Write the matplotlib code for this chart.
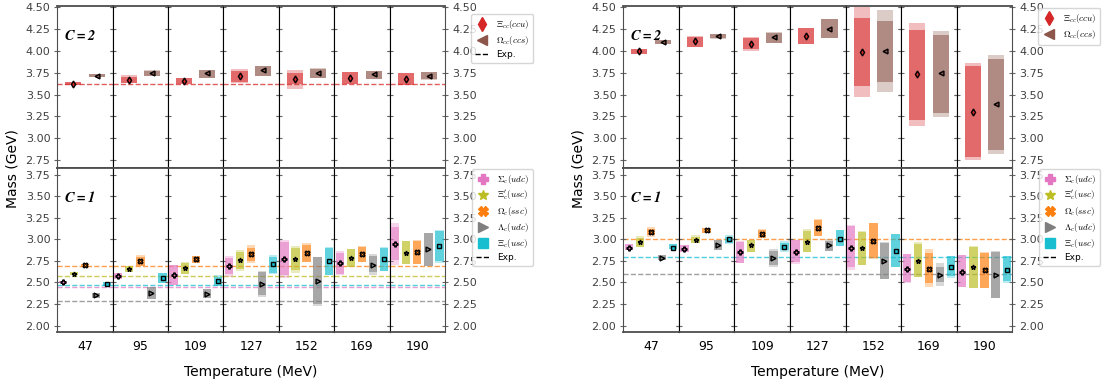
# charmed baryon masses vs temperature, two fits side by side

import numpy as np
import matplotlib
matplotlib.use("Agg")
import matplotlib.pyplot as plt
from matplotlib.lines import Line2D

plt.rcParams['mathtext.fontset'] = 'cm'

temps = [47, 95, 109, 127, 152, 169, 190]

# each entry: (centre, inner_lo, inner_hi, outer_lo, outer_hi)
xicc_L = [(3.625, 3.613, 3.648, 3.613, 3.648), (3.667, 3.636, 3.701, 3.636, 3.724),
          (3.659, 3.621, 3.690, 3.621, 3.690), (3.709, 3.648, 3.770, 3.629, 3.793),
          (3.675, 3.621, 3.751, 3.560, 3.782), (3.686, 3.621, 3.759, 3.621, 3.759),
          (3.678, 3.610, 3.751, 3.605, 3.751)]
omcc_L = [(3.717, 3.698, 3.736, 3.698, 3.736), (3.747, 3.713, 3.770, 3.713, 3.782),
          (3.743, 3.690, 3.782, 3.690, 3.782), (3.778, 3.713, 3.827, 3.713, 3.827),
          (3.751, 3.690, 3.793, 3.690, 3.805), (3.736, 3.678, 3.770, 3.678, 3.770),
          (3.713, 3.675, 3.759, 3.670, 3.759)]

sigc_L = [(2.507, 2.496, 2.523, 2.496, 2.523), (2.577, 2.542, 2.612, 2.542, 2.612),
          (2.585, 2.469, 2.701, 2.469, 2.701), (2.693, 2.596, 2.790, 2.569, 2.809),
          (2.778, 2.592, 2.972, 2.558, 2.995), (2.728, 2.600, 2.844, 2.590, 2.867),
          (2.953, 2.763, 3.142, 2.705, 3.196)]
xicp_L = [(2.604, 2.589, 2.620, 2.589, 2.620), (2.662, 2.627, 2.693, 2.627, 2.693),
          (2.666, 2.600, 2.724, 2.600, 2.740), (2.759, 2.658, 2.852, 2.635, 2.879),
          (2.774, 2.647, 2.906, 2.616, 2.925), (2.790, 2.681, 2.891, 2.681, 2.891),
          (2.848, 2.716, 2.983, 2.716, 2.983)]
omc_L = [(2.701, 2.685, 2.720, 2.685, 2.720), (2.755, 2.693, 2.798, 2.693, 2.817),
         (2.774, 2.732, 2.813, 2.732, 2.813), (2.832, 2.751, 2.906, 2.728, 2.933),
         (2.844, 2.740, 2.937, 2.740, 2.960), (2.832, 2.743, 2.914, 2.743, 2.925),
         (2.856, 2.712, 2.980, 2.712, 2.995)]
lamc_L = [(2.349, 2.325, 2.376, 2.325, 2.376), (2.380, 2.314, 2.453, 2.314, 2.453),
          (2.372, 2.325, 2.426, 2.325, 2.426), (2.488, 2.360, 2.619, 2.337, 2.635),
          (2.523, 2.250, 2.798, 2.232, 2.798), (2.709, 2.619, 2.809, 2.589, 2.832),
          (2.887, 2.697, 3.080, 2.697, 3.080)]
xic_L = [(2.488, 2.465, 2.511, 2.465, 2.511), (2.558, 2.496, 2.608, 2.496, 2.608),
         (2.523, 2.461, 2.569, 2.461, 2.585), (2.712, 2.616, 2.801, 2.600, 2.821),
         (2.751, 2.585, 2.898, 2.585, 2.910), (2.770, 2.635, 2.898, 2.635, 2.910),
         (2.929, 2.755, 3.100, 2.732, 3.111)]

xicc_R = [(3.996, 3.965, 4.019, 3.965, 4.019), (4.110, 4.045, 4.160, 4.045, 4.171),
          (4.083, 4.022, 4.148, 3.999, 4.160), (4.175, 4.083, 4.263, 4.083, 4.263),
          (3.988, 3.598, 4.378, 3.476, 4.508), (3.732, 3.208, 4.240, 3.143, 4.320),
          (3.304, 2.788, 3.828, 2.750, 3.862)]
omcc_R = [(4.103, 4.080, 4.126, 4.080, 4.126), (4.171, 4.148, 4.198, 4.133, 4.198),
          (4.156, 4.091, 4.206, 4.091, 4.217), (4.255, 4.148, 4.366, 4.148, 4.366),
          (3.996, 3.644, 4.343, 3.533, 4.469), (3.747, 3.289, 4.187, 3.247, 4.229),
          (3.392, 2.868, 3.908, 2.823, 3.954)]

sigc_R = [(2.905, 2.883, 2.945, 2.883, 2.945), (2.890, 2.856, 2.933, 2.856, 2.933),
          (2.850, 2.728, 2.972, 2.728, 2.987), (2.860, 2.740, 2.999, 2.716, 2.999),
          (2.900, 2.681, 3.154, 2.650, 3.169), (2.660, 2.511, 2.829, 2.496, 2.832),
          (2.625, 2.449, 2.817, 2.449, 2.817)]
xicp_R = [(2.965, 2.910, 3.018, 2.910, 3.042), (2.995, 2.956, 3.030, 2.956, 3.049),
          (2.935, 2.860, 2.995, 2.860, 2.995), (2.975, 2.852, 3.100, 2.852, 3.123),
          (2.895, 2.705, 3.092, 2.705, 3.103), (2.755, 2.561, 2.949, 2.561, 2.972),
          (2.675, 2.441, 2.910, 2.441, 2.921)]
omc_R = [(3.085, 3.057, 3.127, 3.034, 3.150), (3.105, 3.080, 3.138, 3.080, 3.138),
         (3.060, 3.022, 3.111, 3.022, 3.127), (3.135, 3.042, 3.227, 3.042, 3.239),
         (2.980, 2.790, 3.192, 2.774, 3.192), (2.660, 2.492, 2.844, 2.453, 2.887),
         (2.645, 2.441, 2.840, 2.441, 2.856)]
lamc_R = [(2.785, 2.767, 2.821, 2.767, 2.821), (2.935, 2.879, 2.999, 2.879, 2.999),
          (2.782, 2.705, 2.871, 2.681, 2.894), (2.930, 2.867, 2.987, 2.867, 3.003),
          (2.755, 2.546, 2.960, 2.546, 2.972), (2.585, 2.511, 2.678, 2.465, 2.724),
          (2.585, 2.321, 2.856, 2.321, 2.867)]
xic_R = [(2.905, 2.887, 2.945, 2.887, 2.945), (3.000, 2.956, 3.034, 2.950, 3.053),
         (2.915, 2.879, 2.960, 2.860, 2.987), (3.010, 2.925, 3.111, 2.925, 3.111),
         (2.870, 2.685, 3.065, 2.685, 3.065), (2.675, 2.577, 2.802, 2.554, 2.802),
         (2.650, 2.515, 2.805, 2.496, 2.805)]

# experimental masses (GeV)
exp_C2_L = {'xicc': 3.621}
exp_C1_L = {'sigc': 2.4535, 'xicp': 2.578, 'omc': 2.6952, 'lamc': 2.2865, 'xic': 2.4695}
exp_C1_R = {'omc': 3.000, 'xic': 2.800, 'lamc': 2.595}

styles = {
    'xicc': ('tab:red', 'd', r'$\Xi_{cc}(ccu)$'),
    'omcc': ('tab:brown', '<', r'$\Omega_{cc}(ccs)$'),
    'sigc': ('tab:pink', 'P', r'$\Sigma_c(udc)$'),
    'xicp': ('tab:olive', '*', r"$\Xi_c'(usc)$"),
    'omc': ('tab:orange', 'X', r'$\Omega_c(ssc)$'),
    'lamc': ('tab:gray', '>', r'$\Lambda_c(udc)$'),
    'xic': ('tab:cyan', 's', r'$\Xi_c(usc)$'),
}

W, H = 1103, 385
fig = plt.figure(figsize=(W / 100, H / 100), dpi=100)


def panel(x0, x1, ytop, ybot, series, exp, ylim, yticks, ctext, bottom_row):
    cw = (x1 - x0) / 7
    n = len(series)
    if n == 2:
        pos, bw = [0.29, 0.71], 0.29
    else:
        pos, bw = [0.1, 0.3, 0.5, 0.7, 0.9], 0.15
    axs = []
    for i in range(7):
        ax = fig.add_axes([(x0 + i * cw) / W, 1 - ybot / H, cw / W, (ybot - ytop) / H])
        ax.set_xlim(0, 1)
        ax.set_ylim(*ylim)
        for key, val in exp.items():
            ax.axhline(val, ls='--', color=styles[key][0], lw=1.0, alpha=0.75, zorder=1)
        for p, (key, data) in zip(pos, series):
            c, m, _ = styles[key]
            cen, ilo, ihi, olo, ohi = data[i]
            ax.bar(p, ohi - olo, bottom=olo, width=bw, color=c, alpha=0.3, lw=0, zorder=2)
            ax.bar(p, ihi - ilo, bottom=ilo, width=bw, color=c, alpha=0.55, lw=0, zorder=3)
            ax.plot(p, cen, marker=m, ms=3.5, mfc=c, mec='k', mew=1.0, ls='', zorder=4)
        ax.set_yticks(yticks)
        ax.yaxis.set_major_formatter(plt.FormatStrFormatter('%.2f'))
        ax.tick_params(axis='y', direction='inout', length=4, color='0.4',
                       left=True, right=True, labelleft=(i == 0), labelright=(i == 6),
                       labelsize=8, labelcolor='0.25', pad=3)
        if bottom_row:
            ax.set_xticks([0.5], [str(temps[i])])
            ax.tick_params(axis='x', length=0, labelsize=9, pad=6)
        else:
            ax.set_xticks([])
        for s in ('top', 'bottom'):
            ax.spines[s].set_color('0.3')
            ax.spines[s].set_linewidth(1.3)
        ax.spines['left'].set_color('0.3' if i == 0 else 'k')
        ax.spines['right'].set_color('0.3' if i == 6 else 'k')
        axs.append(ax)
    axs[0].text(0.12, 0.82, ctext, transform=axs[0].transAxes, fontsize=10.5,
                va='center', ha='left')
    return axs


def legend(series, with_exp, x, y):
    handles = [Line2D([], [], ls='', marker=styles[k][1], color=styles[k][0], ms=7)
               for k, _ in series]
    labels = [styles[k][2] for k, _ in series]
    if with_exp:
        handles.append(Line2D([], [], ls='--', color='k', lw=1))
        labels.append('Exp.')
    fig.legend(handles, labels, loc='upper left', bbox_to_anchor=(x / W, 1 - y / H),
               fontsize=6.5, handlelength=1.5, borderpad=0.45, labelspacing=0.32,
               handletextpad=0.8, borderaxespad=0)


top_L = [('xicc', xicc_L), ('omcc', omcc_L)]
bot_L = [('sigc', sigc_L), ('xicp', xicp_L), ('omc', omc_L), ('lamc', lamc_L), ('xic', xic_L)]
top_R = [('xicc', xicc_R), ('omcc', omcc_R)]
bot_R = [('sigc', sigc_R), ('xicp', xicp_R), ('omc', omc_R), ('lamc', lamc_R), ('xic', xic_R)]

yt_top = np.arange(2.75, 4.51, 0.25)
yt_bot = np.arange(2.00, 3.76, 0.25)
c2 = r'$\mathbfit{C=2}$'
c1 = r'$\mathbfit{C=1}$'

for x0, x1, top, bot, e2, e1, lx, ly2, with_exp2 in [
        (57.3, 445.0, top_L, bot_L, exp_C2_L, exp_C1_L, 471, 14, True),
        (623.3, 1012.3, top_R, bot_R, {}, exp_C1_R, 1038, 8, False)]:
    panel(x0, x1, 6, 168, top, e2, (2.66, 4.515), yt_top, c2, False)
    panel(x0, x1, 168, 332, bot, e1, (1.925, 3.83), yt_bot, c1, True)
    legend(top, with_exp2, lx, ly2)
    legend(bot, True, lx + 1, 169)
    fig.text((x0 + x1) / 2 / W, 1 - 372 / H, 'Temperature (MeV)', ha='center',
             va='center', fontsize=10)
    fig.text((x0 - 45) / W, 1 - 169 / H, 'Mass (GeV)', ha='center', va='center',
             rotation=90, fontsize=10)

fig.savefig('out.png', dpi=100)
